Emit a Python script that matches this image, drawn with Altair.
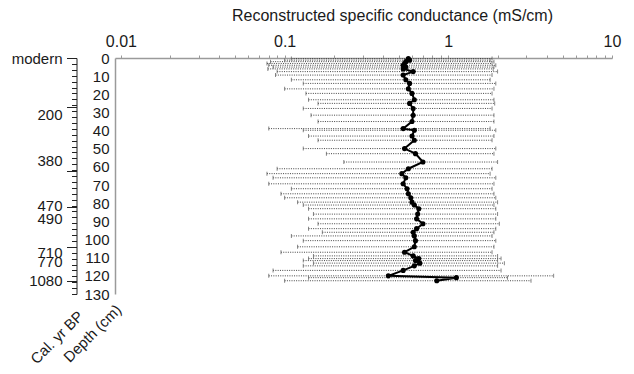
import altair as alt
import pandas as pd

# ---- data ----
depth = [0.3, 1.2, 2.0, 3.0, 4.0, 5.0, 6.0, 7.5, 9.4, 12.0, 14.0, 17.0, 19.5, 23.0, 25.0,
         27.8, 31.5, 35.0, 38.9, 39.8, 43.0, 45.3, 49.9, 52.7, 57.3, 61.0, 63.7, 66.0,
         69.3, 72.0, 74.8, 77.0, 79.4, 81.0, 83.0, 86.0, 88.6, 91.3, 94.0, 96.0, 98.0,
         100.6, 104.0, 107.0, 109.0, 110.5, 111.6, 113.0, 114.5, 117.0, 120.0, 121.0, 122.7]
value = [0.57, 0.58, 0.55, 0.54, 0.53, 0.55, 0.53, 0.61, 0.53, 0.55, 0.58, 0.57, 0.60, 0.62, 0.58,
         0.61, 0.61, 0.60, 0.53, 0.62, 0.60, 0.62, 0.54, 0.63, 0.70, 0.57, 0.52, 0.55,
         0.53, 0.56, 0.57, 0.59, 0.60, 0.62, 0.66, 0.65, 0.64, 0.70, 0.64, 0.61, 0.62,
         0.63, 0.62, 0.54, 0.61, 0.66, 0.63, 0.67, 0.62, 0.53, 0.43, 1.12, 0.85]
low = [0.11, 0.10, 0.082, 0.078, 0.080, 0.085, 0.079, 0.09, 0.088, 0.11, 0.13, 0.10, 0.135, 0.14, 0.16,
       0.13, 0.145, 0.16, 0.080, 0.13, 0.14, 0.16, 0.13, 0.18, 0.23, 0.09, 0.078, 0.085,
       0.080, 0.11, 0.095, 0.10, 0.12, 0.13, 0.14, 0.15, 0.14, 0.16, 0.14, 0.17, 0.11,
       0.13, 0.12, 0.095, 0.15, 0.14, 0.13, 0.15, 0.13, 0.085, 0.080, 0.14, 0.10]
high = [1.85, 1.80, 1.90, 1.85, 1.95, 1.90, 1.88, 2.00, 1.85, 1.80, 1.95, 1.90, 1.85, 1.90, 1.92,
        1.85, 1.90, 1.90, 1.80, 1.95, 1.90, 1.85, 1.95, 1.90, 2.00, 1.85, 1.80, 1.95,
        1.90, 1.85, 1.90, 1.95, 2.00, 1.90, 1.95, 2.00, 1.95, 2.05, 1.95, 1.90, 1.85,
        1.95, 1.90, 1.85, 2.00, 2.10, 2.00, 2.20, 2.00, 2.10, 4.40, 2.30, 3.20]

x_ticks = [0.01, 0.02, 0.03, 0.04, 0.05, 0.06, 0.07, 0.08, 0.09,
           0.1, 0.2, 0.3, 0.4, 0.5, 0.6, 0.7, 0.8, 0.9,
           1, 2, 3, 4, 5, 6, 7, 8, 9, 10]
x_labels = {0.01: "0.01", 0.1: "0.1", 1: "1", 10: "10"}
depth_ticks = [0, 10, 20, 30, 40, 50, 60, 70, 80, 90, 100, 110, 120, 130]

age_labels = ["modern", "200", "380", "470", "490", "710", "770", "1080"]
age_label_depths = [0, 31, 56.5, 81, 88.5, 107, 112, 122.5]
age_major = [0, 27, 62, 82, 104, 123]
age_minor = [0, 3.25, 6.5, 9.75, 13, 16.25, 19.5, 22.75, 26, 29.25, 32.5, 35.75, 39, 42.25,
             45.5, 48.75, 52, 55.25, 58.5, 61.75, 65, 68.25, 71.5, 74.75, 78, 81.25, 84.5,
             87.75, 91, 94.25, 97.5, 100.75, 104, 107.25, 110.5, 113.75, 117, 120.25, 123.5,
             126.75, 130]

df = pd.DataFrame({"depth": depth, "value": value, "low": low, "high": high})

FONT = "Liberation Sans"
TXT = "#1a1a1a"
W, H = 497, 236

xscale = alt.Scale(type="log", domain=[0.0092, 10], nice=False)
yscale = alt.Scale(domain=[0, 130], reverse=True, nice=False, zero=False)

xlab_expr = " : ".join(f"datum.value == {k} ? '{v}'" for k, v in x_labels.items()) + " : ''"
age_expr = " : ".join(f"datum.value == {d} ? '{l}'" for d, l in zip(age_label_depths, age_labels)) + " : ''"

xaxis = alt.Axis(orient="top", values=x_ticks, labelExpr=xlab_expr, labelFlush=False,
                 labelOverlap=False, title="Reconstructed specific conductance (mS/cm)",
                 titleFontSize=16, titleFont=FONT, titleFontWeight="normal", titleColor=TXT,
                 titlePadding=10, titleX=277, titleAnchor="middle",
                 labelFont=FONT, labelFontSize=16, labelColor=TXT, labelPadding=6,
                 tickSize=3, tickColor="#9a9a9a", domainColor="#9a9a9a", domainWidth=1.5,
                 grid=False)

depth_axis = alt.Axis(orient="left", values=depth_ticks, tickSize=0, labelPadding=6,
                      labelFont=FONT, labelFontSize=15, labelColor=TXT, labelOverlap=False,
                      domainColor="#9a9a9a", domainWidth=1.5, grid=False,
                      title="Depth (cm)", titleFont=FONT, titleFontSize=15,
                      titleFontWeight="normal", titleColor=TXT, titleAngle=315,
                      titleX=-23, titleY=275, titleAlign="center", titleBaseline="middle")

bars = alt.Chart(df).mark_rule(color="#444444", strokeWidth=1, strokeDash=[1, 1.3]).encode(
    x=alt.X("low:Q", scale=xscale, axis=xaxis),
    x2="high:Q",
    y=alt.Y("depth:Q", scale=yscale, axis=depth_axis),
)

caps = alt.Chart(df).transform_fold(["low", "high"], as_=["k", "v"]).mark_tick(
    orient="vertical", size=4, thickness=1, color="#666666", opacity=0.8
).encode(
    x=alt.X("v:Q", scale=xscale, axis=xaxis),
    y=alt.Y("depth:Q", scale=yscale, axis=None),
)

line = alt.Chart(df).mark_line(color="black", strokeWidth=2).encode(
    x=alt.X("value:Q", scale=xscale, axis=xaxis),
    y=alt.Y("depth:Q", scale=yscale, axis=None),
    order=alt.Order("depth:Q"),
)

points = alt.Chart(df).mark_point(filled=True, size=26, color="black", opacity=1).encode(
    x=alt.X("value:Q", scale=xscale, axis=xaxis),
    y=alt.Y("depth:Q", scale=yscale, axis=None),
)

AGE_OFF = 38.5

age_lab_layer = alt.Chart(df).mark_point(opacity=0).encode(
    y=alt.Y("depth:Q", scale=yscale,
            axis=alt.Axis(orient="left", offset=AGE_OFF, values=age_label_depths,
                          labelExpr=age_expr, tickSize=0, domain=False, grid=False,
                          labelPadding=14.5, labelOverlap=False, labelFont=FONT,
                          labelFontSize=15, labelColor=TXT, title=None)),
)

age_major_layer = alt.Chart(df).mark_point(opacity=0).encode(
    y=alt.Y("depth:Q", scale=yscale,
            axis=alt.Axis(orient="left", offset=AGE_OFF, values=age_major, labels=False,
                          tickSize=10, tickColor="#222222", tickWidth=1,
                          domain=True, domainColor="#222222", domainWidth=1, grid=False,
                          title="Cal. yr BP", titleFont=FONT, titleFontSize=15,
                          titleFontWeight="normal", titleColor=TXT, titleAngle=315,
                          titleX=-20, titleY=279, titleAlign="center",
                          titleBaseline="middle")),
)

age_minor_layer = alt.Chart(df).mark_point(opacity=0).encode(
    y=alt.Y("depth:Q", scale=yscale,
            axis=alt.Axis(orient="left", offset=AGE_OFF, values=age_minor, labels=False,
                          tickSize=5, tickColor="#222222", tickWidth=1, domain=False,
                          grid=False, title=None)),
)

chart = alt.layer(bars, caps, line, points, age_lab_layer, age_major_layer, age_minor_layer).resolve_scale(
    y="independent"
).properties(
    width=W, height=H,
    autosize=alt.AutoSizeParams(type="none"),
    padding={"left": 107, "top": 50, "right": 14, "bottom": 72},
    background="white",
).configure_view(stroke=None)

chart.save("out.html", embed_options={"renderer": "svg", "actions": False})
